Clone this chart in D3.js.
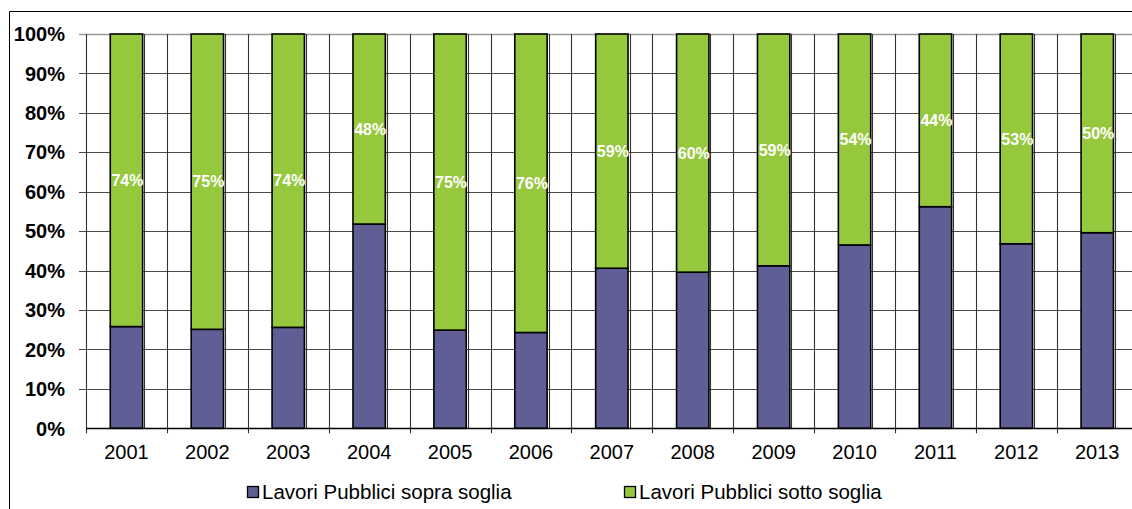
<!DOCTYPE html>
<html>
<head>
<meta charset="utf-8">
<script src="https://cdn.jsdelivr.net/npm/d3@7/dist/d3.min.js"></script>
<style>
  body { margin: 0; background: #fff; }
  svg { display: block; font-family: "Liberation Sans", Arial, sans-serif; }
</style>
</head>
<body>
<svg id="chart" width="1132" height="509"></svg>
<script>
const years = ['2001', '2002', '2003', '2004', '2005', '2006', '2007', '2008', '2009', '2010', '2011', '2012', '2013'];
// Lavori Pubblici sopra soglia (%)
const sopra = [25.8, 25.1, 25.6, 51.8, 24.9, 24.3, 40.6, 39.6, 41.2, 46.5, 56.2, 46.8, 49.6];
// Lavori Pubblici sotto soglia (%)
const sotto = [74.2, 74.9, 74.4, 48.2, 75.1, 75.7, 59.4, 60.4, 58.8, 53.5, 43.8, 53.2, 50.4];
const yTicks = [0, 10, 20, 30, 40, 50, 60, 70, 80, 90, 100];
const seriesNames = ['Lavori Pubblici sopra soglia', 'Lavori Pubblici sotto soglia'];

const colors = { sopra: '#5f5f96', sotto: '#95c83d' };

const svg = d3.select('#chart');

// outer frame (continues past the right/bottom edges)
svg.append('path')
  .attr('d', 'M9.5,509 L9.5,11.5 L1132,11.5')
  .attr('fill', 'none')
  .attr('stroke', '#000')
  .attr('stroke-width', 1);

const plot = { left: 86, right: 1137.7, top: 34, bottom: 428.3 };

const x = d3.scaleBand()
  .domain(years)
  .range([plot.left, plot.right])
  .paddingInner(0.6)
  .paddingOuter(0.3);

const y = d3.scaleLinear()
  .domain([0, 100])
  .range([plot.bottom, plot.top]);

const step = x.step();
const boundaries = years.map(d => x(d) - step * 0.3).concat([plot.right]);

const grid = svg.append('g').attr('class', 'grid');

// horizontal gridlines
grid.selectAll('line.h')
  .data(yTicks.filter(t => t > 0))
  .join('line')
  .attr('class', 'h')
  .attr('x1', plot.left - 7)
  .attr('x2', plot.right)
  .attr('y1', d => Math.round(y(d)) + 0.5)
  .attr('y2', d => Math.round(y(d)) + 0.5)
  .attr('stroke', d => d === 100 ? '#9a9a9a' : '#4a4a4a')
  .attr('stroke-width', d => d === 100 ? 1.6 : 1.2);

// vertical gridlines at category boundaries
grid.selectAll('line.v')
  .data(boundaries)
  .join('line')
  .attr('class', 'v')
  .attr('x1', d => Math.round(d) + 0.5)
  .attr('x2', d => Math.round(d) + 0.5)
  .attr('y1', plot.top)
  .attr('y2', plot.bottom + 5)
  .attr('stroke', '#333')
  .attr('stroke-width', 1.1);

// secondary vertical lines just right of each bar
grid.selectAll('line.v2')
  .data(years)
  .join('line')
  .attr('class', 'v2')
  .attr('x1', d => Math.round(x(d) + x.bandwidth() + 1.5) + 0.5)
  .attr('x2', d => Math.round(x(d) + x.bandwidth() + 1.5) + 0.5)
  .attr('y1', plot.top)
  .attr('y2', plot.bottom)
  .attr('stroke', '#333')
  .attr('stroke-width', 1.1);

// stacked bars
const rows = years.map((yr, i) => ({ year: yr, sopra: sopra[i], sotto: sotto[i] }));
const stack = d3.stack().keys(['sopra', 'sotto']);
const layers = stack(rows);

svg.append('g').selectAll('g')
  .data(layers)
  .join('g')
  .attr('fill', d => colors[d.key])
  .selectAll('rect')
  .data(d => d)
  .join('rect')
  .attr('x', d => x(d.data.year))
  .attr('width', x.bandwidth())
  .attr('y', d => y(d[1]))
  .attr('height', d => y(d[0]) - y(d[1]))
  .attr('stroke', '#000')
  .attr('stroke-width', 1.6);

// value labels on the green segments
const sottoLayer = layers[1];
svg.append('g').selectAll('text')
  .data(sottoLayer)
  .join('text')
  .attr('x', d => x(d.data.year) + x.bandwidth() / 2 + 1)
  .attr('y', d => (y(d[0]) + y(d[1])) / 2)
  .attr('dy', '0.36em')
  .attr('text-anchor', 'middle')
  .attr('fill', '#fff')
  .attr('font-weight', 'bold')
  .attr('font-size', 16)
  .text(d => Math.round(d.data.sotto) + '%');

// x axis line + ticks
svg.append('line')
  .attr('x1', plot.left).attr('x2', plot.right)
  .attr('y1', Math.round(plot.bottom) + 0.5).attr('y2', Math.round(plot.bottom) + 0.5)
  .attr('stroke', '#000').attr('stroke-width', 1.3);

svg.append('g').selectAll('text')
  .data(years)
  .join('text')
  .attr('x', d => x(d) + x.bandwidth() / 2)
  .attr('y', 452)
  .attr('dy', '0.35em')
  .attr('text-anchor', 'middle')
  .attr('font-size', 20)
  .attr('fill', '#000')
  .text(d => d);

// y axis labels
svg.append('g').selectAll('text')
  .data(yTicks)
  .join('text')
  .attr('x', 65)
  .attr('y', d => y(d))
  .attr('dy', '0.36em')
  .attr('text-anchor', 'end')
  .attr('font-size', 20)
  .attr('font-weight', 'bold')
  .attr('fill', '#000')
  .text(d => d + '%');

// legend
const legendItems = [
  { name: seriesNames[0], color: colors.sopra, x: 247 },
  { name: seriesNames[1], color: colors.sotto, x: 624 }
];
const legend = svg.append('g').selectAll('g')
  .data(legendItems)
  .join('g')
  .attr('transform', d => `translate(${d.x},492)`);
legend.append('rect')
  .attr('x', 0.5).attr('y', -5.5)
  .attr('width', 11).attr('height', 11)
  .attr('fill', d => d.color)
  .attr('stroke', '#000')
  .attr('stroke-width', 1.3);
legend.append('text')
  .attr('x', 15)
  .attr('y', 0)
  .attr('dy', '0.36em')
  .attr('font-size', 20.5)
  .attr('fill', '#000')
  .text(d => d.name);
</script>
</body>
</html>
